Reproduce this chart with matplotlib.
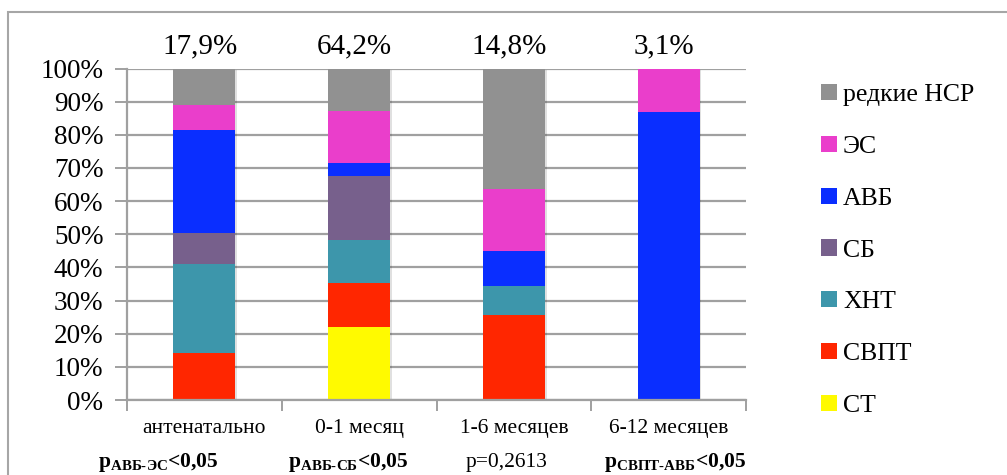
import matplotlib
matplotlib.use("Agg")
import matplotlib.pyplot as plt
from matplotlib.patches import Rectangle, Patch
import numpy as np

# periods and their share of all cases
periods = ["антенатально", "0-1 месяц", "1-6 месяцев", "6-12 месяцев"]
period_share = ["17,9%", "64,2%", "14,8%", "3,1%"]

# structure of arrhythmias within each period, % (bottom to top)
st = [0, 21.9, 0, 0]
svpt = [14.1, 13.5, 25.5, 0]
hnt = [26.8, 12.8, 9.0, 0]
sb = [9.4, 19.5, 0, 0]
avb = [31.1, 3.8, 10.3, 86.8]
es = [7.5, 15.6, 18.9, 13.2]
rare = [11.1, 12.9, 36.3, 0]

series_names = ["СТ", "СВПТ", "ХНТ", "СБ", "АВБ", "ЭС", "редкие НСР"]
series_values = [st, svpt, hnt, sb, avb, es, rare]
colors = ["#FFFA00", "#FF2600", "#3D96AB", "#77608C", "#0A2EFF", "#EA3ECB", "#919191"]

# significance notes under each period
p_notes = [r"$\mathbf{p_{АВБ\text{-}ЭС}}$<0,05", r"$\mathbf{p_{АВБ\text{-}СБ}}$<0,05",
           "p=0,2613", r"$\mathbf{p_{СВПТ\text{-}АВБ}}$<0,05"]
p_bold = [True, True, False, True]
p_x = [-0.30, 0.93, 1.95, 3.04]

plt.rcParams["font.family"] = ["Liberation Serif", "DejaVu Serif"]
plt.rcParams["mathtext.fontset"] = "custom"
plt.rcParams["mathtext.rm"] = "Liberation Serif"
plt.rcParams["mathtext.bf"] = "Liberation Serif:bold"

W, H = 1007, 475
fig = plt.figure(figsize=(W / 100, H / 100), dpi=100)
ax = fig.add_axes([127 / W, (H - 400) / H, (746 - 127) / W, (400 - 68.5) / H])

grid_c = "#a0a0a0"
x = np.arange(len(periods))
width = 0.4

# soft shadow behind each full column
totals = np.sum(series_values, axis=0)
ax.bar(x + 0.012, totals, width, bottom=-0.6, color="#000000", alpha=0.12, zorder=1.5,
       linewidth=0)

bottom = np.zeros(len(periods))
for name, vals, c in zip(series_names, series_values, colors):
    ax.bar(x, vals, width, bottom=bottom, color=c, label=name, zorder=2, linewidth=0)
    bottom += np.array(vals)

ax.set_xlim(-0.5, len(periods) - 0.5)
ax.set_ylim(0, 100)
ax.set_yticks(np.arange(0, 101, 10))
ax.set_yticklabels([f"{v}%" for v in range(0, 101, 10)], fontsize=19.5)
ax.yaxis.grid(True, color=grid_c, linewidth=1.6, zorder=0)
ax.set_axisbelow(True)

ax.set_xticks(x)
ax.set_xticklabels(periods, fontsize=15.5)
ax.tick_params(axis="x", length=0, pad=14)
ax.set_xticks(np.arange(-0.5, len(periods)), minor=True)
ax.tick_params(axis="x", which="minor", length=8, width=1.4, color=grid_c, direction="out")
ax.tick_params(axis="y", length=9, width=1.4, color=grid_c, pad=8)

for side in ["top", "right"]:
    ax.spines[side].set_visible(False)
for side in ["left", "bottom"]:
    ax.spines[side].set_color(grid_c)
    ax.spines[side].set_linewidth(1.6)

# share of each period above the columns
for xi, s in zip(x, period_share):
    ax.text(xi - 0.03, 1.068, s, transform=ax.get_xaxis_transform(), ha="center",
            va="center", fontsize=21)

# p-values below the period names
for xp, note, b in zip(p_x, p_notes, p_bold):
    ax.text(xp, -0.19, note, transform=ax.get_xaxis_transform(), ha="center", va="center",
            fontsize=15.5, fontweight="bold" if b else "normal")

# legend, top entry first
handles = [Patch(facecolor=c, label=n) for n, c in zip(series_names, colors)][::-1]
fig.legend(handles=handles, loc="upper left", bbox_to_anchor=(798 / W, 1 - 61 / H),
           frameon=False, fontsize=18.5, handlelength=0.6, handleheight=0.6,
           handletextpad=0.25, labelspacing=1.15)

# chart frame
fig.patches.append(Rectangle((8 / W, -0.1), 1.2, 1 - 12 / H + 0.1, transform=fig.transFigure,
                             fill=False, edgecolor="#a6a6a6", linewidth=1.5))

fig.savefig("out.png", dpi=100)
